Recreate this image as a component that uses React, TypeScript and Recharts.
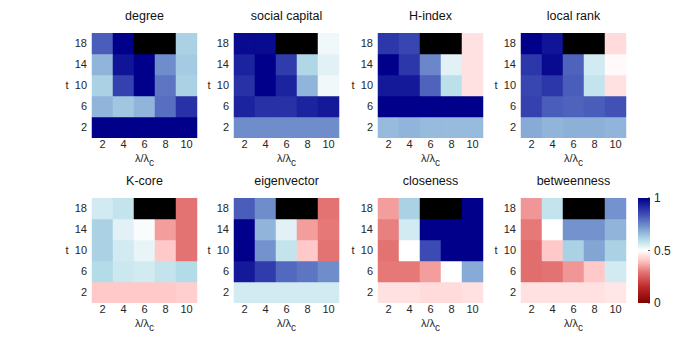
import React from 'react';
import { BarChart, Bar, XAxis, YAxis, Cell, Label } from 'recharts';

const FONT = '"Liberation Sans", Arial, Helvetica, sans-serif';

// λ/λc categories (columns) and t values (rows, bottom to top)
const lambdas = [2, 4, 6, 8, 10];
const times = [2, 6, 10, 14, 18];

// Values per panel: one row per t (2,6,10,14,18), one entry per λ/λc (2..10). null = no data (black)
const degreeValues = [
  [1, 1, 1, 1, 1],
  [0.67, 0.64, 0.67, 0.79, 0.9],
  [0.62, 0.87, 1, 0.78, 0.62],
  [0.67, 0.96, 1, 0.74, 0.63],
  [0.82, 1, null, null, 0.62],
];
const socialCapitalValues = [
  [0.74, 0.74, 0.74, 0.74, 0.74],
  [0.93, 0.9, 0.9, 0.93, 0.95],
  [0.9, 1, 0.93, 0.67, 0.52],
  [0.93, 1, 0.88, 0.61, 0.54],
  [0.98, 0.98, null, null, 0.52],
];
const hIndexValues = [
  [0.66, 0.67, 0.66, 0.66, 0.66],
  [1, 1, 1, 1, 1],
  [0.95, 0.95, 0.81, 0.59, 0.45],
  [1, 0.89, 0.75, 0.54, 0.45],
  [0.89, 0.86, null, null, 0.45],
];
const localRankValues = [
  [0.69, 0.67, 0.68, 0.68, 0.67],
  [0.87, 0.82, 0.81, 0.82, 0.84],
  [0.86, 0.89, 0.82, 0.58, 0.45],
  [0.89, 0.98, 0.81, 0.56, 0.49],
  [1, 0.96, null, null, 0.44],
];
const kCoreValues = [
  [0.41, 0.41, 0.41, 0.41, 0.42],
  [0.6, 0.57, 0.56, 0.58, 0.6],
  [0.62, 0.56, 0.53, 0.41, 0.29],
  [0.62, 0.54, 0.51, 0.35, 0.29],
  [0.56, 0.58, null, null, 0.29],
];
const eigenvectorValues = [
  [0.56, 0.56, 0.56, 0.56, 0.56],
  [0.95, 0.88, 0.8, 0.78, 0.74],
  [1, 0.73, 0.58, 0.41, 0.29],
  [1, 0.67, 0.54, 0.35, 0.3],
  [0.82, 0.74, null, null, 0.29],
];
const closenessValues = [
  [0.45, 0.45, 0.44, 0.44, 0.45],
  [0.3, 0.3, 0.35, 0.5, 0.69],
  [0.29, 0.5, 0.85, 1, 1],
  [0.31, 0.56, 1, 1, 1],
  [0.35, 0.62, null, null, 1],
];
const betweennessValues = [
  [0.45, 0.45, 0.45, 0.45, 0.46],
  [0.28, 0.29, 0.34, 0.41, 0.56],
  [0.28, 0.41, 0.62, 0.7, 0.62],
  [0.3, 0.5, 0.73, 0.73, 0.67],
  [0.34, 0.58, null, null, 0.73],
];

const panelTitles = ['degree', 'social capital', 'H-index', 'local rank', 'K-core', 'eigenvector', 'closeness', 'betweenness'];
const panelValues = [degreeValues, socialCapitalValues, hIndexValues, localRankValues, kCoreValues, eigenvectorValues, closenessValues, betweennessValues];

const colorbarTicks = [0, 0.5, 1];

// diverging red-white-blue colormap
const cmapStops: [number, number[]][] = [
  [0, [128, 0, 0]],
  [0.15, [190, 40, 40]],
  [0.3, [230, 120, 120]],
  [0.4, [255, 195, 195]],
  [0.5, [255, 255, 255]],
  [0.6, [180, 220, 232]],
  [0.7, [130, 165, 212]],
  [0.85, [60, 75, 180]],
  [1, [0, 0, 139]],
];

function colorOf(v: number | null): string {
  if (v === null || v === undefined) return '#000000';
  const x = Math.max(0, Math.min(1, v));
  for (let i = 0; i < cmapStops.length - 1; i++) {
    const [a, ca] = cmapStops[i];
    const [b, cb] = cmapStops[i + 1];
    if (x >= a && x <= b) {
      const f = (x - a) / (b - a);
      const c = ca.map((k, j) => Math.round(k + (cb[j] - k) * f));
      return `rgb(${c[0]},${c[1]},${c[2]})`;
    }
  }
  return 'rgb(0,0,139)';
}

const PLOT = 105;
const ML = 40;
const MT = 30;
const MR = 10;
const XH = 35;
const colLefts = [92, 234, 378, 521];
const rowTops = [33, 198];

const bandHeight = times[1] - times[0];

const renderXLabel = (props: any) => {
  const vb = props.viewBox || {};
  const cx = vb.x + vb.width / 2;
  const y = vb.y + 24;
  return (
    <text x={cx} y={y} textAnchor="middle" fontSize={11} fontFamily={FONT} fill="#262626">
      λ/λ<tspan dy={4} fontSize={10}>c</tspan>
    </text>
  );
};

function Panel({ title, values, left, top }: { title: string; values: (number | null)[][]; left: number; top: number }) {
  const data = lambdas.map((lam) => {
    const row: any = { lam: String(lam) };
    times.forEach((t) => {
      row['t' + t] = bandHeight;
    });
    return row;
  });
  return (
    <div style={{ position: 'absolute', left: left - ML, top: top - MT, width: ML + PLOT + MR, height: MT + PLOT + XH }}>
      <BarChart
        width={ML + PLOT + MR}
        height={MT + PLOT + XH}
        data={data}
        margin={{ top: MT, right: MR, bottom: 0, left: 0 }}
        barCategoryGap={0}
        barGap={0}
      >
        <XAxis
          dataKey="lam"
          type="category"
          axisLine={false}
          tickLine={false}
          tickSize={0}
          tickMargin={2}
          height={XH}
          interval={0}
          tick={{ fontSize: 11, fill: '#262626', fontFamily: FONT }}
        >
          <Label content={renderXLabel} />
        </XAxis>
        <YAxis
          type="number"
          domain={[times[0] - bandHeight / 2, times[times.length - 1] + bandHeight / 2]}
          ticks={times}
          width={ML}
          axisLine={false}
          tickLine={false}
          tickSize={0}
          tickMargin={5}
          allowDataOverflow
          tickFormatter={(v: number) => (v === 10 ? 't\u00a0\u00a010' : String(v))}
          tick={{ fontSize: 11, fill: '#262626', fontFamily: FONT }}
        />
        {times.map((t, i) => (
          <Bar key={t} dataKey={'t' + t} stackId="s" isAnimationActive={false}>
            {lambdas.map((lam, j) => {
              const fill = colorOf(values[i][j]);
              return <Cell key={lam} fill={fill} stroke={fill} strokeWidth={0.5} />;
            })}
          </Bar>
        ))}
      </BarChart>
      <div
        style={{
          position: 'absolute',
          left: ML - 30,
          width: PLOT + 60,
          top: MT - 24,
          textAlign: 'center',
          fontFamily: FONT,
          fontSize: 12.5,
          color: '#111',
          lineHeight: '14px',
          whiteSpace: 'nowrap',
        }}
      >
        {title}
      </div>
    </div>
  );
}

export default function App() {
  const cbX = 638;
  const cbY = 198;
  const cbW = 12;
  const cbH = 105;
  return (
    <div style={{ position: 'absolute', left: 0, top: 0, width: 694, height: 348, background: '#fff' }}>
      {panelTitles.map((title, k) => (
        <Panel
          key={title}
          title={title}
          values={panelValues[k]}
          left={colLefts[k % 4]}
          top={rowTops[Math.floor(k / 4)]}
        />
      ))}
      <svg width={694} height={348} style={{ position: 'absolute', left: 0, top: 0, pointerEvents: 'none' }}>
        <defs>
          <linearGradient id="cbar" x1="0" y1="1" x2="0" y2="0">
            {cmapStops.map(([o, c]) => (
              <stop key={o} offset={o} stopColor={`rgb(${c[0]},${c[1]},${c[2]})`} />
            ))}
          </linearGradient>
        </defs>
        <rect x={cbX} y={cbY} width={cbW} height={cbH} fill="url(#cbar)" />
        {colorbarTicks.map((v) => {
          const y = cbY + cbH - v * cbH;
          return (
            <g key={v}>
              <line x1={cbX + cbW - 2} x2={cbX + cbW} y1={y} y2={y} stroke="#262626" strokeWidth={0.8} />
              <text x={cbX + cbW + 4} y={y + 4} fontSize={12} fontFamily={FONT} fill="#262626">
                {String(v)}
              </text>
            </g>
          );
        })}
      </svg>
    </div>
  );
}
